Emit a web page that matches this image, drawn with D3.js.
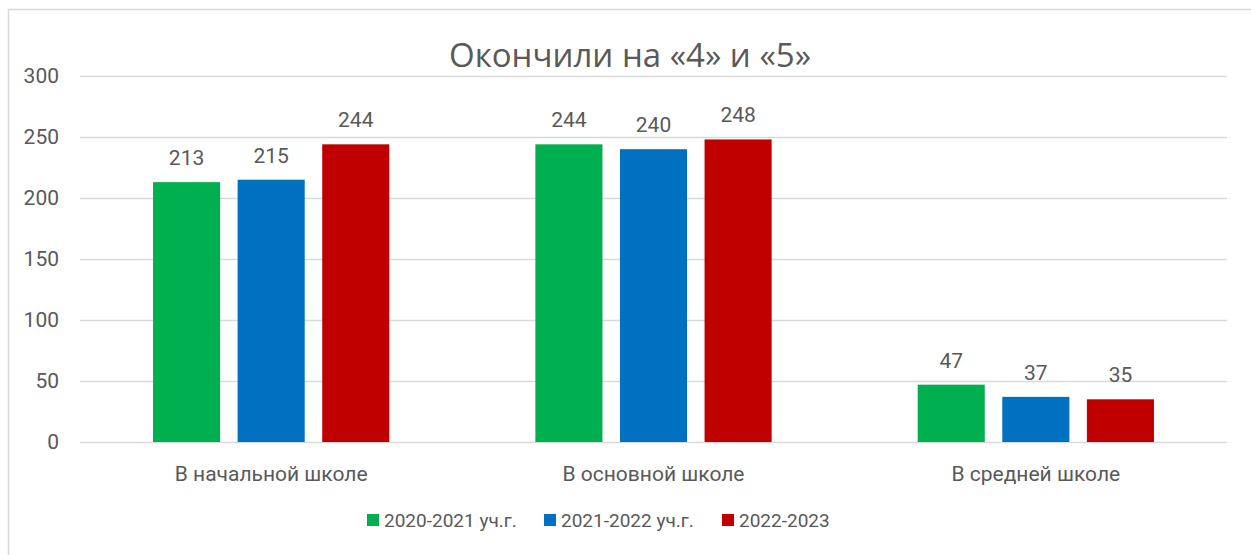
<!DOCTYPE html>
<meta charset="utf-8">
<style>

html, body {
  margin: 0;
  background: #fff;
}

.grid line {
  stroke: #d9d9d9;
  stroke-width: 1.3px;
}

text {
  fill: #595959;
  font-family: Roboto, sans-serif;
}

.title {
  font-family: "Open Sans", sans-serif;
  font-size: 33px;
}

</style>
<body><svg width="1251" height="555"></svg></body>
<script src="https://d3js.org/d3.v7.min.js"></script>
<script>

var categories = ["В начальной школе", "В основной школе", "В средней школе"];
var series = ["2020-2021 уч.г.", "2021-2022 уч.г.", "2022-2023"];
var colors = ["#00b050", "#0070c0", "#c00000"];
var values = [
  [213, 244, 47],   // 2020-2021
  [215, 240, 37],   // 2021-2022
  [244, 248, 35]    // 2022-2023
];
var yTicks = [0, 50, 100, 150, 200, 250, 300];

var svg = d3.select("svg"),
    width = +svg.attr("width"),
    height = +svg.attr("height");

// chart frame
svg.append("rect")
    .attr("x", 8.5)
    .attr("y", 9.5)
    .attr("width", width + 10)
    .attr("height", height + 10)
    .attr("fill", "#fff")
    .attr("stroke", "#d9d9d9")
    .attr("stroke-width", 1.5);

var plotLeft = 80, plotRight = 1227, plotTop = 76, plotBottom = 442;

var y = d3.scaleLinear()
    .domain([0, 300])
    .range([plotBottom, plotTop]);

var x0 = d3.scaleBand()
    .domain(categories)
    .range([plotLeft, plotRight])
    .paddingInner(0.382)
    .paddingOuter(0.191);

var x1 = d3.scaleBand()
    .domain(series)
    .range([0, x0.bandwidth()])
    .paddingInner(0.207);

// gridlines
svg.append("g")
    .attr("class", "grid")
  .selectAll("line")
  .data(yTicks)
  .enter().append("line")
    .attr("x1", plotLeft)
    .attr("x2", plotRight)
    .attr("y1", function(d) { return Math.round(y(d)) + 0.5; })
    .attr("y2", function(d) { return Math.round(y(d)) + 0.5; });

// y tick labels
svg.append("g")
  .selectAll("text")
  .data(yTicks)
  .enter().append("text")
    .attr("x", 59)
    .attr("y", function(d) { return y(d); })
    .attr("dy", "0.35em")
    .attr("text-anchor", "end")
    .style("font-size", "21px")
    .text(function(d) { return d; });

// bars
var groups = svg.append("g")
  .selectAll("g")
  .data(series)
  .enter().append("g")
    .attr("fill", function(d, i) { return colors[i]; });

groups.selectAll("rect")
  .data(function(d, i) {
    return categories.map(function(c, j) { return {cat: c, ser: d, val: values[i][j]}; });
  })
  .enter().append("rect")
    .attr("x", function(d) { return x0(d.cat) + x1(d.ser); })
    .attr("y", function(d) { return y(d.val); })
    .attr("width", x1.bandwidth())
    .attr("height", function(d) { return y(0) - y(d.val); });

groups.selectAll("text")
  .data(function(d, i) {
    return categories.map(function(c, j) { return {cat: c, ser: d, val: values[i][j]}; });
  })
  .enter().append("text")
    .attr("x", function(d) { return x0(d.cat) + x1(d.ser) + x1.bandwidth() / 2; })
    .attr("y", function(d) { return y(d.val) - 17; })
    .attr("text-anchor", "middle")
    .style("font-size", "21px")
    .text(function(d) { return d.val; });

// category labels
svg.append("g")
  .selectAll("text")
  .data(categories)
  .enter().append("text")
    .attr("x", function(d) { return x0(d) + x0.bandwidth() / 2; })
    .attr("y", 481)
    .attr("text-anchor", "middle")
    .style("font-size", "21px")
    .text(function(d) { return d; });

// title
svg.append("text")
    .attr("class", "title")
    .attr("x", 630)
    .attr("y", 67)
    .attr("text-anchor", "middle")
    .text("Окончили на «4» и «5»");

// legend
var legendX = [367, 544, 722];
var legend = svg.append("g")
  .selectAll("g")
  .data(series)
  .enter().append("g")
    .attr("transform", function(d, i) { return "translate(" + legendX[i] + ",520)"; });

legend.append("rect")
    .attr("x", 0)
    .attr("y", -6)
    .attr("width", 12)
    .attr("height", 12)
    .attr("fill", function(d, i) { return colors[i]; });

legend.append("text")
    .attr("x", 17)
    .attr("dy", "0.35em")
    .style("font-size", "19px")
    .text(function(d) { return d; });

</script>
